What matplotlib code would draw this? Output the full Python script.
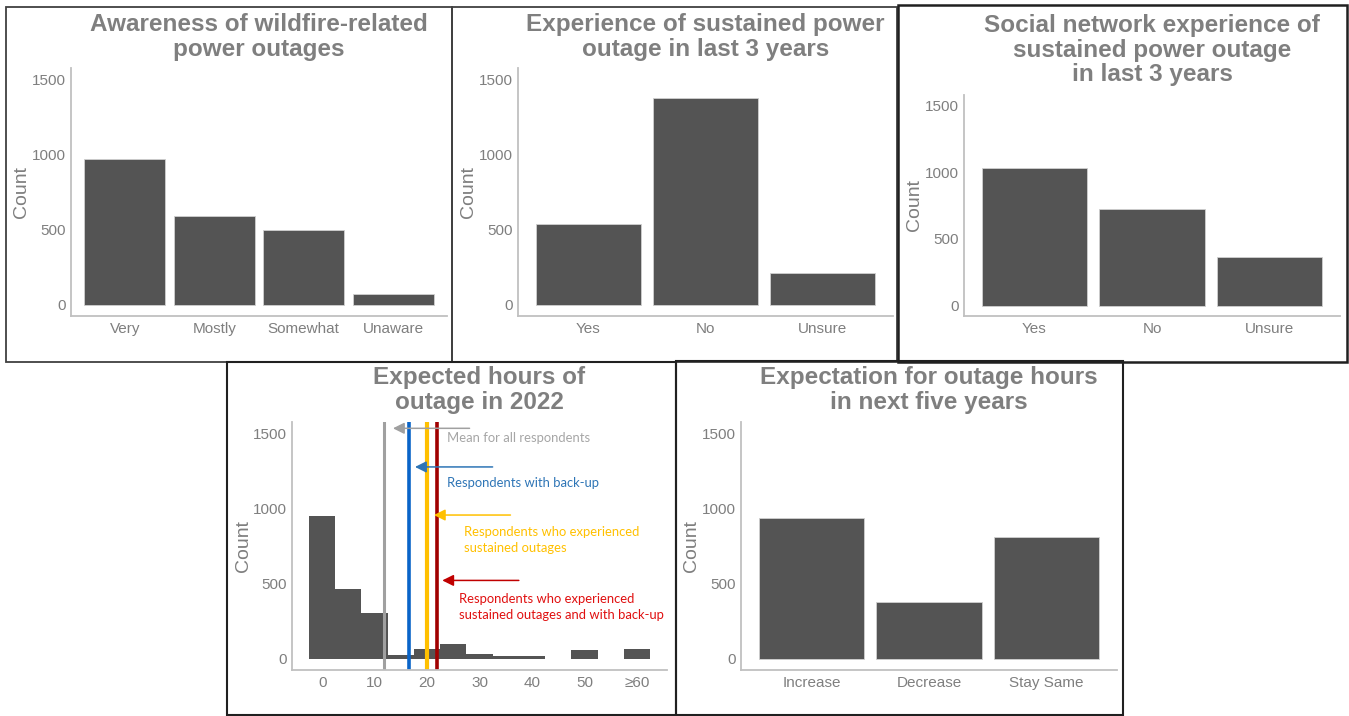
import numpy as np
import matplotlib
matplotlib.use("Agg")
import matplotlib.pyplot as plt
from matplotlib.patches import Rectangle

W, H = 1349, 716

# ---- data ----
awareness_cats = ["Very", "Mostly", "Somewhat", "Unaware"]
awareness_vals = [972, 590, 496, 71]

experience_cats = ["Yes", "No", "Unsure"]
experience_vals = [539, 1375, 211]

social_cats = ["Yes", "No", "Unsure"]
social_vals = [1028, 725, 368]

future_cats = ["Increase", "Decrease", "Stay Same"]
future_vals = [936, 375, 808]

hours_bins = [0, 5, 10, 15, 20, 25, 30, 35, 40, 45, 50, 55, 60]
hours_counts = [949, 461, 306, 24, 67, 100, 33, 18, 15, 0, 55, 0, 62]
hours_ticks = [0, 10, 20, 30, 40, 50, 60]
hours_ticklabels = ["0", "10", "20", "30", "40", "50", "\u226560"]

mean_labels = ["Mean for all respondents",
               "Respondents with back-up",
               "Respondents who experienced\nsustained outages",
               "Respondents who experienced\nsustained outages and with back-up"]
mean_values = [11.8, 16.6, 19.9, 21.85]
mean_colors = ["#a0a0a0", "#0a64c8", "#ffc000", "#a00000"]
arrow_colors = ["#a0a0a0", "#2e75b6", "#ffc000", "#c00000"]
mean_text_colors = ["#a6a6a6", "#2e75b6", "#ffc000", "#e01010"]

BAR = "#545454"
TXT = "#7f7f7f"
AXC = "#c0c0c0"
FONT = ["Liberation Sans", "DejaVu Sans"]

plt.rcParams["font.family"] = FONT

fig = plt.figure(figsize=(W / 100, H / 100), dpi=100)


def ax_at(x0, y0, x1, y1):
    return fig.add_axes([x0 / W, 1 - y1 / H, (x1 - x0) / W, (y1 - y0) / H])


def style(ax, title, title_cy, labelpad=1):
    for s in ["top", "right"]:
        ax.spines[s].set_visible(False)
    for s in ["left", "bottom"]:
        ax.spines[s].set_color(AXC)
        ax.spines[s].set_linewidth(1.3)
    ax.tick_params(length=0, colors=TXT, labelsize=11, pad=4)
    ax.set_ylim(-75, 1575)
    ax.set_yticks([0, 500, 1000, 1500])
    ax.set_ylabel("Count", color=TXT, fontsize=14, labelpad=labelpad)
    bb = ax.get_position()
    fig.text((bb.x0 + bb.x1) / 2, 1 - title_cy / H, title, color=TXT,
             fontsize=17.5, fontweight="bold", linespacing=1.06,
             ha="center", va="center")


def bar_panel(box, cats, vals, title, title_cy):
    ax = ax_at(*box)
    x = np.arange(1, len(cats) + 1)
    ax.bar(x, vals, width=0.9, color=BAR, edgecolor="#d0d0d0", linewidth=0.6)
    ax.set_xlim(0.4, len(cats) + 0.6)
    ax.set_xticks(x)
    ax.set_xticklabels(cats)
    style(ax, title, title_cy)
    return ax


bar_panel((71, 68, 447, 316), awareness_cats, awareness_vals,
          "Awareness of wildfire-related\npower outages", 37)
bar_panel((518, 68, 893, 316), experience_cats, experience_vals,
          "Experience of sustained power\noutage in last 3 years", 37)
bar_panel((964, 95, 1340, 316), social_cats, social_vals,
          "Social network experience of\nsustained power outage\nin last 3 years", 50)
bar_panel((741, 422, 1117, 670), future_cats, future_vals,
          "Expectation for outage hours\nin next five years", 390)

# histogram panel
ax = ax_at(292, 422, 667, 670)
ax.bar(hours_bins, hours_counts, width=5, color=BAR, linewidth=0)
ax.set_xlim(-5.75, 65.75)
ax.set_xticks(hours_ticks)
ax.set_xticklabels(hours_ticklabels)
style(ax, "Expected hours of\noutage in 2022", 390, labelpad=0)

for v, c, w in zip(mean_values, mean_colors, [2.2, 2.6, 3.0, 2.6]):
    ax.axvline(v, ymin=0, ymax=1.0, color=c, lw=w)

arrows = [((13.5, 1533), 28.1), ((17.7, 1276), 32.5),
          ((21.3, 956), 35.9), ((22.9, 521), 37.5)]
text_pos = [(23.75, 1467), (23.75, 1172), (27.0, 792), (26.1, 345)]
for (head, tail_x), ac, tc, lab, tp in zip(arrows, arrow_colors, mean_text_colors,
                                           mean_labels, text_pos):
    ax.annotate("", xy=head, xytext=(tail_x, head[1]),
                arrowprops=dict(arrowstyle="-|>", color=ac, lw=1.1,
                                mutation_scale=17, shrinkA=0, shrinkB=0))
    ax.text(tp[0], tp[1], lab, color=tc, fontsize=9.4, family=["Lato", "DejaVu Sans"],
            ha="left", va="center", linespacing=1.38)

# panel frames
frames = [(6, 7, 452, 362, "#404040", 1.3), (452, 7, 897, 362, "#404040", 1.3),
          (898, 5, 1347, 362, "#202020", 1.8), (227, 362, 676, 715, "#202020", 1.5),
          (676, 361, 1123, 715, "#202020", 1.5)]
for x0, y0, x1, y1, c, lw in frames:
    fig.add_artist(Rectangle((x0 / W, 1 - y1 / H), (x1 - x0) / W, (y1 - y0) / H,
                             transform=fig.transFigure, fill=False, edgecolor=c,
                             linewidth=lw))

fig.savefig("out.png", dpi=100)
